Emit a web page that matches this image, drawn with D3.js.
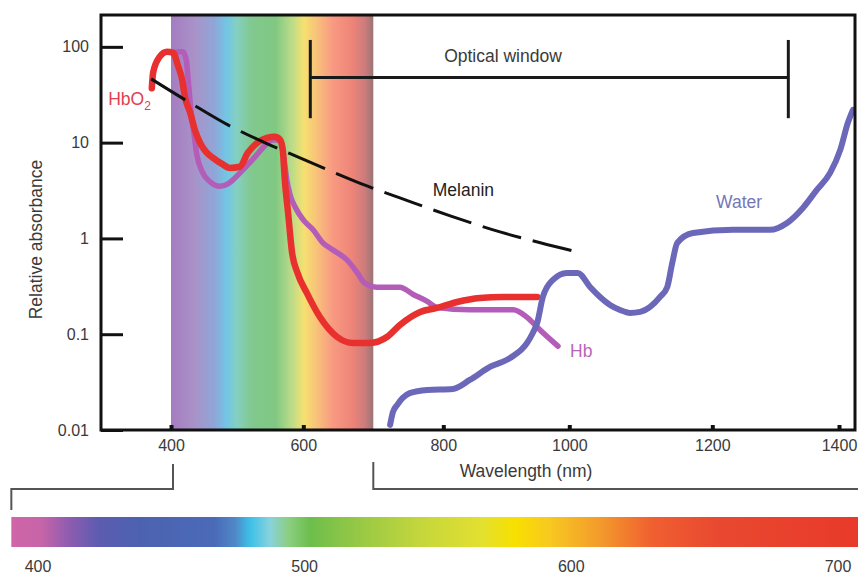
<!DOCTYPE html>
<html>
<head>
<meta charset="utf-8">
<script src="https://cdn.jsdelivr.net/npm/d3@7"></script>
<style>
  body { margin: 0; background: #fff; }
  svg { display: block; font-family: "Liberation Sans", Arial, Helvetica, sans-serif; }
</style>
</head>
<body>
<svg id="chart" width="858" height="575"></svg>
<script>
// ---- data ----
const xTicks = [400, 600, 800, 1000, 1200, 1400];
const yTicks = [100, 10, 1, 0.1, 0.01];
const yTickLabels = ["100", "10", "1", "0.1", "0.01"];

// [wavelength nm, relative absorbance]
const hbo2 = [[371,37],[373,54],[383,79],[394,89],[403,87],[411,62],[417,45],[421,30],[429,20.5],[436,13.6],
  [444,9.9],[453,8.0],[464,6.9],[477,6.0],[489,5.45],[504,5.6],[516,7.8],[530,9.9],[545,11.2],[557,11.5],
  [565,10.7],[569,8.4],[572,4.1],[577,1.85],[583,0.71],[591,0.44],[605,0.27],[624,0.15],[648,0.094],
  [671,0.081],[695,0.081],[720,0.094],[738,0.125],[767,0.171],[791,0.188],[822,0.217],[858,0.239],
  [895,0.245],[949,0.245]];

const hb = [[404,84],[411,89],[418,89],[423,73],[426,45],[430,22],[435,12],[439,7.5],[447,5.0],[459,3.9],
  [474,3.5],[486,3.7],[497,4.3],[512,5.5],[527,7.1],[542,9.3],[554,10.7],[565,10.4],[571,6.6],[575,4.1],
  [580,2.85],[588,2.1],[600,1.56],[614,1.23],[628,0.90],[642,0.76],[662,0.60],[677,0.44],[688,0.34],
  [705,0.31],[738,0.31],[757,0.26],[777,0.22],[791,0.19],[842,0.18],[911,0.18],[933,0.15],[954,0.11],
  [982,0.075]];

const water = [[724,0.0113],[728,0.0154],[734,0.0182],[742,0.0216],[752,0.0243],[777,0.0262],[815,0.0268],
  [842,0.0333],[874,0.0455],[906,0.0565],[933,0.081],[942,0.103],[949,0.131],[958,0.245],[974,0.369],
  [996,0.436],[1012,0.436],[1029,0.311],[1043,0.245],[1057,0.202],[1071,0.179],[1085,0.167],[1099,0.171],
  [1113,0.193],[1127,0.245],[1137,0.311],[1144,0.555],[1151,0.90],[1173,1.14],[1233,1.23],[1291,1.23],
  [1318,1.45],[1343,2.08],[1365,3.21],[1386,4.83],[1402,8.4],[1414,16.1],[1422,22]];

const melanin = [[370,46.3],[429,26],[486,15.3],[539,10.2],[595,6.93],[642,4.95],[691,3.53],[738,2.65],
  [811,1.72],[890,1.17],[954,0.90],[1012,0.72]];

const visibleBand = [400, 700];
const opticalWindow = [610, 1320];
const spectrumTicks = [400, 500, 600, 700];
const spectrumExtent = [390, 707.5];

// spectrum colour stops [wavelength, colour]
const bandStops = [[400,"#a47cc0"],[435,"#a992c8"],[466,"#8fa6d8"],[484,"#72c6e4"],[500,"#84d0c0"],
  [521,"#82c890"],[558,"#80c882"],[583,"#bcdc88"],[601,"#f6e070"],[619,"#f8c27a"],[642,"#f89a82"],
  [670,"#ee8478"],[688,"#cc7c7c"],[700,"#9a7474"]];
const barStops = [[390,"#d064a8"],[401,"#c864a8"],[412,"#8c5cb0"],[423,"#5c5cb0"],[438,"#4c62b0"],
  [466,"#4a6ab8"],[474,"#5088c8"],[479.5,"#3cc0e8"],[487,"#88d2dc"],[494,"#8cce80"],[502,"#6cbe4c"],
  [513,"#88c448"],[543,"#c4d63c"],[566,"#e2e030"],[579,"#f8e000"],[592,"#f8c820"],[611,"#f39a2c"],
  [630,"#f06030"],[656,"#e84830"],[707.5,"#e83a2a"]];

// ---- layout ----
const width = 858;
const height = 575;
const plot = { left: 101, right: 855, top: 15, bottom: 430 };
const textColor = "#3a3a3a";

const svg = d3.select("#chart");
const defs = svg.append("defs");

// wavelength axis of the source is hand drawn: piecewise linear through its ticks
const x = d3.scaleLinear()
  .domain(xTicks)
  .range([171, 303.3, 443.3, 569.3, 712.3, 839]);

const y = d3.scaleLog()
  .domain([0.01, 215])
  .range([plot.bottom, plot.top]);

const bar = d3.scaleLinear()
  .domain([400, 700])
  .range([38, 838]);

// visible band inside the plot
const bandGrad = defs.append("linearGradient")
  .attr("id", "band")
  .attr("gradientUnits", "userSpaceOnUse")
  .attr("x1", x(visibleBand[0])).attr("x2", x(visibleBand[1]))
  .attr("y1", 0).attr("y2", 0);
bandGrad.selectAll("stop")
  .data(bandStops)
  .join("stop")
  .attr("offset", d => (x(d[0]) - x(visibleBand[0])) / (x(visibleBand[1]) - x(visibleBand[0])))
  .attr("stop-color", d => d[1]);

svg.append("rect")
  .attr("x", x(visibleBand[0]))
  .attr("y", plot.top)
  .attr("width", x(visibleBand[1]) - x(visibleBand[0]))
  .attr("height", plot.bottom - plot.top)
  .attr("fill", "url(#band)");

// curves
const line = d3.line()
  .x(d => x(d[0]))
  .y(d => y(d[1]))
  .curve(d3.curveMonotoneX);

svg.append("path")
  .datum(hb)
  .attr("fill", "none")
  .attr("stroke", "#b35db9")
  .attr("stroke-width", 5.5)
  .attr("stroke-linecap", "round")
  .attr("stroke-linejoin", "round")
  .attr("d", line);

svg.append("path")
  .datum(hbo2)
  .attr("fill", "none")
  .attr("stroke", "#e8302e")
  .attr("stroke-width", 6.5)
  .attr("stroke-linecap", "round")
  .attr("stroke-linejoin", "round")
  .attr("d", line);

svg.append("path")
  .datum(water)
  .attr("fill", "none")
  .attr("stroke", "#6b67b9")
  .attr("stroke-width", 6)
  .attr("stroke-linecap", "round")
  .attr("stroke-linejoin", "round")
  .attr("d", line);

svg.append("path")
  .datum(melanin)
  .attr("fill", "none")
  .attr("stroke", "#111")
  .attr("stroke-width", 3)
  .attr("stroke-dasharray", "40 12")
  .attr("d", line);

// frame
svg.append("rect")
  .attr("x", plot.left)
  .attr("y", plot.top)
  .attr("width", plot.right - plot.left)
  .attr("height", plot.bottom - plot.top)
  .attr("fill", "none")
  .attr("stroke", "#111")
  .attr("stroke-width", 3);

// axes (ticks point inward)
const yAxis = svg.append("g")
  .attr("transform", `translate(${plot.left},0)`)
  .call(d3.axisLeft(y).tickValues(yTicks).tickSize(-22).tickPadding(12)
    .tickFormat((d, i) => yTickLabels[i]));
yAxis.select(".domain").remove();
yAxis.selectAll(".tick line").attr("stroke", "#111").attr("stroke-width", 3);
yAxis.selectAll(".tick text").attr("fill", textColor).style("font-size", "16px");

const xAxis = svg.append("g")
  .attr("transform", `translate(0,${plot.bottom})`)
  .call(d3.axisBottom(x).tickValues(xTicks).tickSize(-5).tickPadding(10)
    .tickFormat(d => String(d)));
xAxis.select(".domain").remove();
xAxis.selectAll(".tick line").attr("stroke", "#111").attr("stroke-width", 4);
xAxis.selectAll(".tick text").attr("fill", textColor).style("font-size", "16px");

// axis titles
svg.append("text")
  .attr("transform", `translate(42,${(plot.top + plot.bottom) / 2 + 17}) rotate(-90)`)
  .attr("text-anchor", "middle")
  .attr("fill", textColor)
  .style("font-size", "17.5px")
  .text("Relative absorbance");

svg.append("text")
  .attr("x", 526)
  .attr("y", 477)
  .attr("text-anchor", "middle")
  .attr("fill", textColor)
  .style("font-size", "17.5px")
  .text("Wavelength (nm)");

// optical window marker
const owTop = y(118), owBottom = y(18), owMid = y(48);
const ow = svg.append("g").attr("stroke", "#1a1a1a").attr("stroke-width", 3);
ow.append("line").attr("x1", x(opticalWindow[0])).attr("x2", x(opticalWindow[0])).attr("y1", owTop).attr("y2", owBottom);
ow.append("line").attr("x1", x(opticalWindow[1])).attr("x2", x(opticalWindow[1])).attr("y1", owTop).attr("y2", owBottom);
ow.append("line").attr("x1", x(opticalWindow[0])).attr("x2", x(opticalWindow[1])).attr("y1", owMid).attr("y2", owMid);

svg.append("text")
  .attr("x", 503)
  .attr("y", 62)
  .attr("text-anchor", "middle")
  .attr("fill", textColor)
  .style("font-size", "17.5px")
  .text("Optical window");

// series labels
svg.append("text")
  .attr("x", x(785)).attr("y", y(2.78))
  .attr("fill", "#222")
  .style("font-size", "17.5px")
  .text("Melanin");

svg.append("text")
  .attr("x", x(1206)).attr("y", y(2.08))
  .attr("fill", "#7676b8")
  .style("font-size", "17.5px")
  .text("Water");

svg.append("text")
  .attr("x", x(1001)).attr("y", y(0.0578))
  .attr("fill", "#b865b9")
  .style("font-size", "17.5px")
  .text("Hb");

const hbo2Label = svg.append("text")
  .attr("x", x(305)).attr("y", y(24.8))
  .attr("fill", "#e0404f")
  .style("font-size", "17.5px");
hbo2Label.append("tspan").text("HbO");
hbo2Label.append("tspan").attr("dy", 5).style("font-size", "12px").text("2");

// brackets linking plot band to the spectrum bar
const bracketY = 489;
const br = svg.append("g").attr("fill", "none").attr("stroke", "#555").attr("stroke-width", 2);
br.append("path").attr("d",
  `M${x(visibleBand[0]) + 2},464 V${bracketY} H${bar(spectrumExtent[0])} V510`);
br.append("path").attr("d",
  `M${x(visibleBand[1])},462 V${bracketY} H${width}`);

// spectrum bar
const barGrad = defs.append("linearGradient")
  .attr("id", "spectrum")
  .attr("gradientUnits", "userSpaceOnUse")
  .attr("x1", bar(spectrumExtent[0])).attr("x2", bar(spectrumExtent[1]))
  .attr("y1", 0).attr("y2", 0);
barGrad.selectAll("stop")
  .data(barStops)
  .join("stop")
  .attr("offset", d => (bar(d[0]) - bar(spectrumExtent[0])) / (bar(spectrumExtent[1]) - bar(spectrumExtent[0])))
  .attr("stop-color", d => d[1]);

svg.append("rect")
  .attr("x", bar(spectrumExtent[0]))
  .attr("y", 517)
  .attr("width", bar(spectrumExtent[1]) - bar(spectrumExtent[0]))
  .attr("height", 30)
  .attr("fill", "url(#spectrum)");

svg.append("g")
  .selectAll("text")
  .data(spectrumTicks)
  .join("text")
  .attr("x", d => bar(d))
  .attr("y", 572)
  .attr("text-anchor", "middle")
  .attr("fill", textColor)
  .style("font-size", "16px")
  .text(d => d);
</script>
</body>
</html>
